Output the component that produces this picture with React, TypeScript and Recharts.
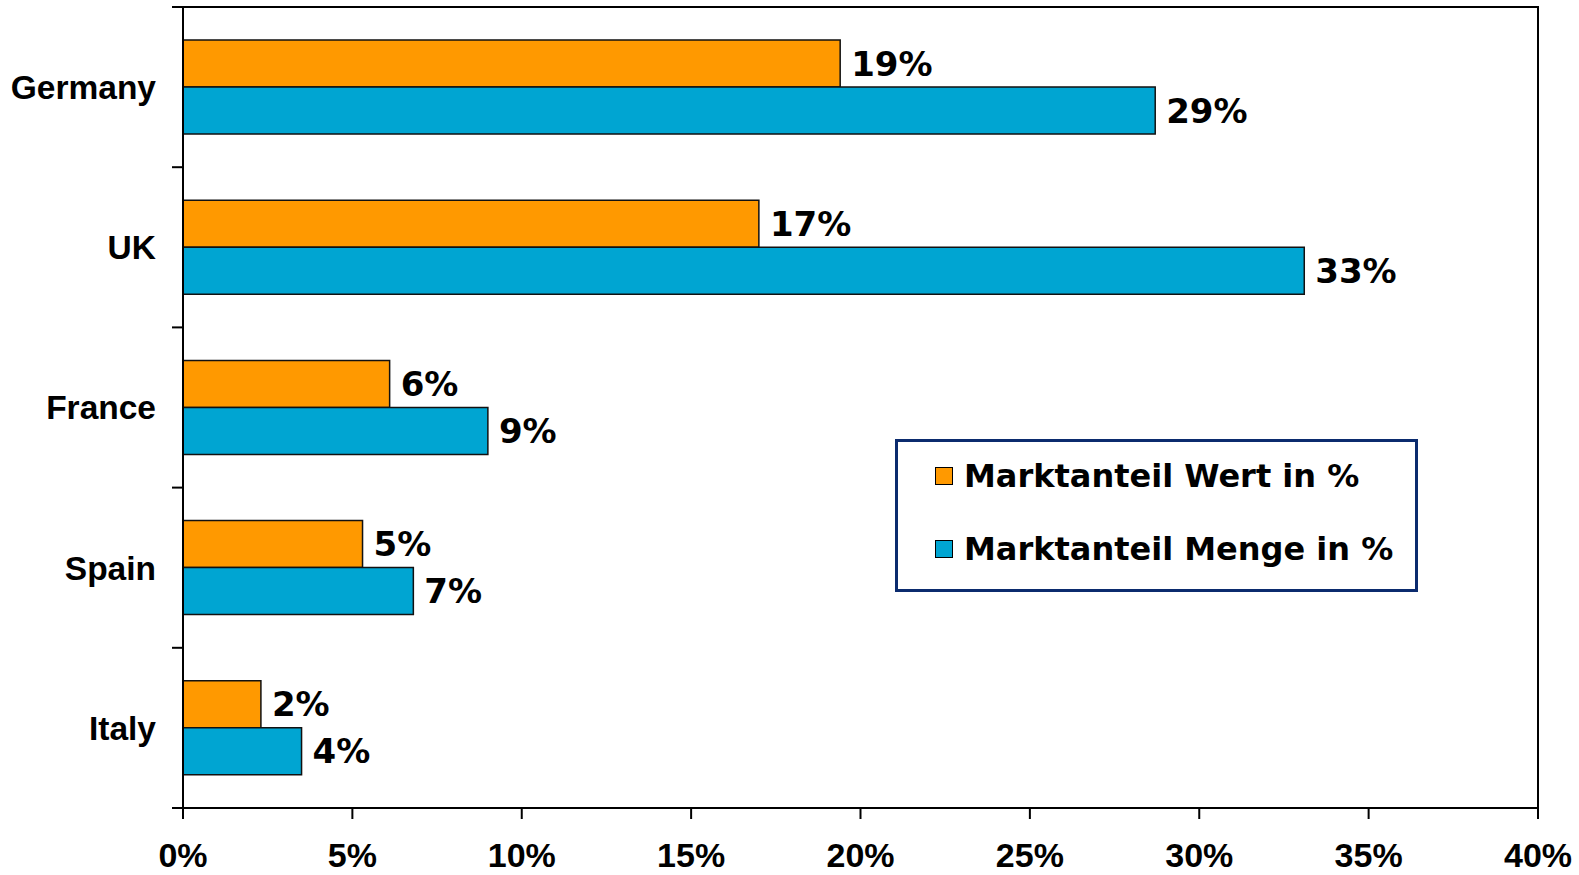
import { BarChart, Bar, XAxis, YAxis, LabelList, Legend, ReferenceArea } from 'recharts';

const countries = ['Germany', 'UK', 'France', 'Spain', 'Italy'];
const wertShare = [19.4, 17.0, 6.1, 5.3, 2.3];
const mengeShare = [28.7, 33.1, 9.0, 6.8, 3.5];
const xTicks = [0, 5, 10, 15, 20, 25, 30, 35, 40];

const seriesNames = ['Marktanteil Wert in %', 'Marktanteil Menge in %'];
const COLORS = { wert: '#FF9900', menge: '#00A5D2' };

const data = countries.map((country, i) => ({
  country,
  wert: wertShare[i],
  menge: mengeShare[i],
}));

const WIDTH = 1579;
const HEIGHT = 875;
const MARGIN = { top: 7, right: 41, bottom: 0, left: 0 };
const X_AXIS_HEIGHT = 67;
const BAND = (HEIGHT - MARGIN.top - MARGIN.bottom - X_AXIS_HEIGHT) / countries.length;

const axisFont = { fontFamily: '"Liberation Sans", Arial, sans-serif', fontWeight: 'bold', fontSize: 34 };
const labelFont = { fontFamily: '"DejaVu Sans", Verdana, sans-serif', fontWeight: 'bold', fontSize: 34 };

// Excel style: category ticks sit between the groups, not at their centers
const CountryTick = (props: any) => {
  const { x, y, payload, index } = props;
  const axisX = x + 11 + 16;
  return (
    <g>
      <text x={x} y={y} dy="0.355em" textAnchor="end" fill="#000" style={{ ...axisFont, fontSize: 33.5 }}>
        {payload.value}
      </text>
      {index === 0 && (
        <line x1={axisX - 11} x2={axisX} y1={y - BAND / 2} y2={y - BAND / 2} stroke="#000" strokeWidth={2} />
      )}
      <line x1={axisX - 11} x2={axisX} y1={y + BAND / 2} y2={y + BAND / 2} stroke="#000" strokeWidth={2} />
    </g>
  );
};

const LegendBox = () => {
  const items = [
    { name: seriesNames[0], color: COLORS.wert },
    { name: seriesNames[1], color: COLORS.menge },
  ];
  return (
    <div
      style={{
        boxSizing: 'border-box',
        width: 523,
        height: 153,
        border: '3px solid #0B2B6E',
        background: '#fff',
        padding: '0 0 0 37px',
      }}
    >
      <div style={{ position: 'relative', top: -3 }}>
        {items.map((item) => (
          <div key={item.name} style={{ display: 'flex', alignItems: 'center', height: 73 }}>
            <span
              style={{
                display: 'inline-block',
                width: 16,
                height: 16,
                background: item.color,
                border: '1.5px solid #000',
                marginRight: 11,
              }}
            />
            <span style={{ ...labelFont, fontSize: 32, color: '#000', whiteSpace: 'nowrap' }}>{item.name}</span>
          </div>
        ))}
      </div>
    </div>
  );
};

export default function App() {
  return (
    <div style={{ position: 'absolute', left: 0, top: 0, background: '#fff' }}>
      <BarChart
        width={WIDTH}
        height={HEIGHT}
        data={data}
        layout="vertical"
        margin={MARGIN}
        barCategoryGap={33}
        barGap={0}
      >
        <XAxis
          type="number"
          domain={[0, 40]}
          ticks={xTicks}
          interval={0}
          tickFormatter={(v) => `${v}%`}
          height={X_AXIS_HEIGHT}
          axisLine={{ stroke: '#000', strokeWidth: 2 }}
          tickLine={{ stroke: '#000', strokeWidth: 2 }}
          tickSize={11}
          tickMargin={24}
          tick={{ fill: '#000', ...axisFont }}
        />
        <YAxis
          type="category"
          dataKey="country"
          width={183}
          axisLine={{ stroke: '#000', strokeWidth: 2 }}
          tickLine={false}
          tickSize={11}
          tickMargin={16}
          tick={<CountryTick />}
          interval={0}
        />
        <ReferenceArea x1={0} x2={40} fill="none" stroke="#000" strokeWidth={2} />
        <Bar dataKey="wert" name={seriesNames[0]} fill={COLORS.wert} stroke="#111" strokeWidth={1.5} isAnimationActive={false}>
          <LabelList
            dataKey="wert"
            position="right"
            offset={11}
            formatter={(v: any) => `${Math.round(v)}%`}
            fill="#000"
            style={labelFont}
          />
        </Bar>
        <Bar dataKey="menge" name={seriesNames[1]} fill={COLORS.menge} stroke="#111" strokeWidth={1.5} isAnimationActive={false}>
          <LabelList
            dataKey="menge"
            position="right"
            offset={11}
            formatter={(v: any) => `${Math.round(v)}%`}
            fill="#000"
            style={labelFont}
          />
        </Bar>
        <Legend
          layout="horizontal"
          verticalAlign="middle"
          align="center"
          content={<LegendBox />}
          wrapperStyle={{ position: 'absolute', left: 895, top: 439, width: 523, height: 153 }}
        />
      </BarChart>
    </div>
  );
}
